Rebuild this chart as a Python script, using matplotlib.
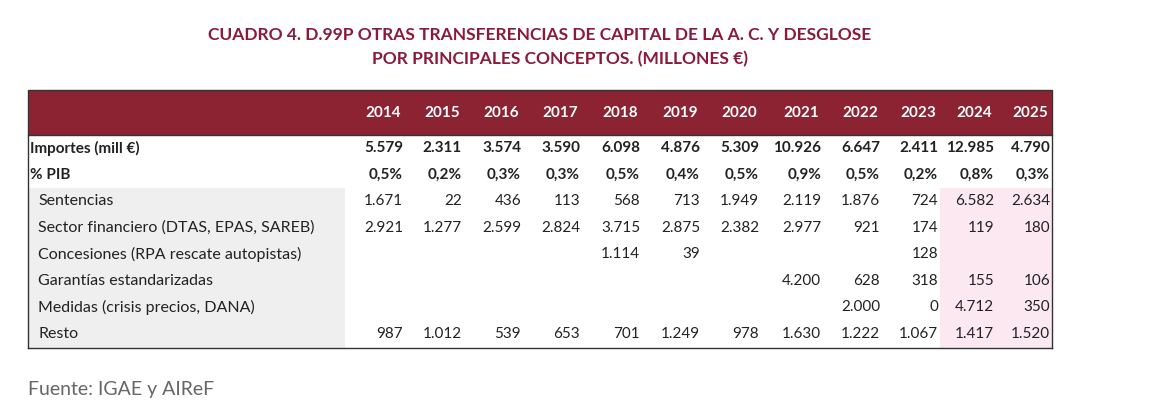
import matplotlib.pyplot as plt
from matplotlib.patches import Rectangle

plt.rcParams['font.family'] = ['Lato', 'DejaVu Sans']

years = ['2014', '2015', '2016', '2017', '2018', '2019', '2020', '2021', '2022', '2023', '2024', '2025']
row_labels = ['Importes (mill €)', '% PIB', 'Sentencias', 'Sector financiero (DTAS, EPAS, SAREB)',
              'Concesiones (RPA rescate autopistas)', 'Garantías estandarizadas',
              'Medidas (crisis precios, DANA)', 'Resto']
importes = ['5.579', '2.311', '3.574', '3.590', '6.098', '4.876', '5.309', '10.926', '6.647', '2.411', '12.985', '4.790']
pib = ['0,5%', '0,2%', '0,3%', '0,3%', '0,5%', '0,4%', '0,5%', '0,9%', '0,5%', '0,2%', '0,8%', '0,3%']
sentencias = ['1.671', '22', '436', '113', '568', '713', '1.949', '2.119', '1.876', '724', '6.582', '2.634']
sector_fin = ['2.921', '1.277', '2.599', '2.824', '3.715', '2.875', '2.382', '2.977', '921', '174', '119', '180']
concesiones = ['', '', '', '', '1.114', '39', '', '', '', '128', '', '']
garantias = ['', '', '', '', '', '', '', '4.200', '628', '318', '155', '106']
medidas = ['', '', '', '', '', '', '', '', '2.000', '0', '4.712', '350']
resto = ['987', '1.012', '539', '653', '701', '1.249', '978', '1.630', '1.222', '1.067', '1.417', '1.520']
rows = [importes, pib, sentencias, sector_fin, concesiones, garantias, medidas, resto]

fig = plt.figure(figsize=(11.5, 4.2), dpi=100)
ax = fig.add_axes([0, 0, 1, 1])
ax.set_xlim(0, 1150)
ax.set_ylim(420, 0)
ax.axis('off')

red = '#8B2332'
ax.text(540, 35, 'CUADRO 4. D.99P OTRAS TRANSFERENCIAS DE CAPITAL DE LA A. C. Y DESGLOSE',
        ha='center', va='center', color='#8B1A3A', fontsize=12.5, fontweight='bold')
ax.text(560, 59, 'POR PRINCIPALES CONCEPTOS. (MILLONES €)',
        ha='center', va='center', color='#8B1A3A', fontsize=12.5, fontweight='bold')

# cabecera
ax.add_patch(Rectangle((28, 90), 1024, 45, facecolor=red, edgecolor='#333333', lw=1))
col_x = [403, 462, 521, 580, 640, 700, 759, 821, 880, 938, 994, 1050]
for x, y in zip(col_x, years):
    ax.text(x - 2, 113, y, ha='right', va='center', color='white', fontsize=11, fontweight='bold')

row_y = [148, 175, 201, 228, 254, 281, 307, 334]
# fondo gris de etiquetas y rosa para 2024-2025
ax.add_patch(Rectangle((28, 188), 317, 160, facecolor='#EFEFEF', edgecolor='none'))
ax.add_patch(Rectangle((940, 188), 112, 160, facecolor='#FCE8F0', edgecolor='none'))
ax.plot([28, 28], [135, 348], color='#333333', lw=1)
ax.plot([1052, 1052], [135, 348], color='#333333', lw=1)
ax.plot([28, 1052], [348, 348], color='#333333', lw=1)

for i, (lab, vals, y) in enumerate(zip(row_labels, rows, row_y)):
    bold = i < 2
    lx = 30 if bold else 38
    ax.text(lx, y, lab, ha='left', va='center', fontsize=11.5 if not bold else 11,
            fontweight='bold' if bold else 'normal', color='#222222')
    for x, v in zip(col_x, vals):
        ax.text(x, y, v, ha='right', va='center', fontsize=11,
                fontweight='bold' if bold else 'normal', color='#222222')

ax.text(28, 390, 'Fuente: IGAE y AIReF', ha='left', va='center', fontsize=14, color='#666666')

fig.savefig('out.png', dpi=100)
